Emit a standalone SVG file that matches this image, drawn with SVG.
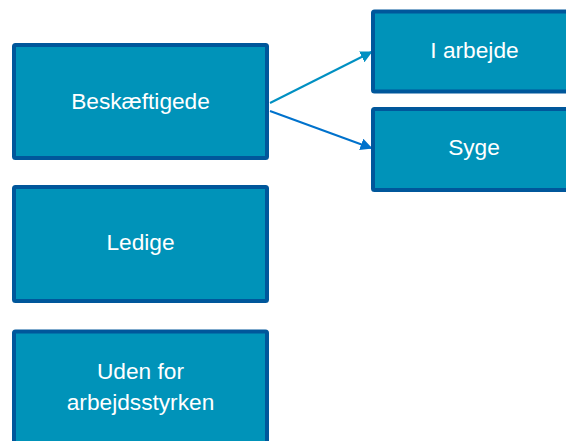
<svg xmlns="http://www.w3.org/2000/svg" width="566" height="441" viewBox="0 0 566 441">
<style>
.box{fill:#0093B9;stroke:#00579B;stroke-width:4}
.lbl{font-family:"Liberation Sans",Arial,sans-serif;font-size:22.7px;fill:#ffffff;text-anchor:middle}
</style>
<defs>
<marker id="a1" viewBox="0 0 10 10" refX="10" refY="5" markerWidth="6" markerHeight="6" markerUnits="strokeWidth" orient="auto"><path d="M0,0 L10,5 L0,10 z" fill="#0090C2"/></marker>
<marker id="a2" viewBox="0 0 10 10" refX="10" refY="5" markerWidth="6" markerHeight="6" markerUnits="strokeWidth" orient="auto"><path d="M0,0 L10,5 L0,10 z" fill="#0072CC"/></marker>
</defs>
<rect width="566" height="441" fill="#ffffff"/>
<g id="connectors">
<line x1="270" y1="103" x2="372.5" y2="51.5" stroke="#0090C2" stroke-width="2" marker-end="url(#a1)"/>
<line x1="270" y1="111" x2="372.5" y2="148.5" stroke="#0072CC" stroke-width="2" marker-end="url(#a2)"/>
</g>
<g id="beskaeftigede">
<rect class="box" x="14" y="45" width="253" height="113" rx="1.5"/>
<text class="lbl" x="140.5" y="108.5">Beskæftigede</text>
</g>
<g id="ledige">
<rect class="box" x="14" y="187" width="253" height="114" rx="1.5"/>
<text class="lbl" x="140.5" y="250">Ledige</text>
</g>
<g id="uden">
<rect class="box" x="14" y="331.5" width="253" height="120" rx="1.5"/>
<text class="lbl" x="140.5" y="378.5">Uden for</text>
<text class="lbl" x="140.5" y="410">arbejdsstyrken</text>
</g>
<g id="iarbejde">
<rect class="box" x="373" y="11.5" width="210" height="80" rx="1.5"/>
<text class="lbl" x="474.5" y="57.5">I arbejde</text>
</g>
<g id="syge">
<rect class="box" x="373" y="109" width="210" height="81" rx="1.5"/>
<text class="lbl" x="474" y="155">Syge</text>
</g>
</svg>
